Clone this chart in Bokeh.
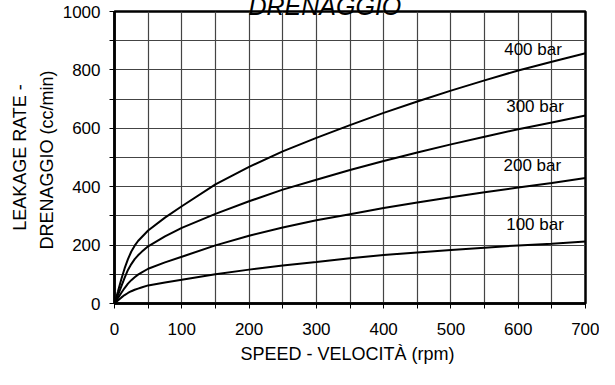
from bokeh.plotting import figure
from bokeh.models import FixedTicker, Label, Range1d
from bokeh.embed import file_html
from bokeh.resources import INLINE

# ---- data ----
speed = [0, 5, 10, 15, 20, 25, 30, 35, 40, 50, 75, 100, 150, 200, 250, 300,
         350, 400, 450, 500, 550, 600, 650, 700]
bar100 = [0, 10, 20, 29, 36, 42, 47, 51, 55, 62, 72, 81, 100, 116, 130, 142,
          155, 166, 175, 183, 191, 199, 205, 212]
bar200 = [0, 18, 36, 53, 68, 80, 90, 99, 106, 119, 141, 160, 199, 232, 260, 285,
          306, 327, 346, 364, 381, 397, 413, 430]
bar300 = [0, 28, 58, 88, 115, 135, 152, 165, 176, 196, 230, 259, 307, 350, 390, 424,
          457, 488, 517, 545, 571, 597, 620, 644]
bar400 = [0, 40, 82, 120, 152, 178, 198, 214, 226, 250, 294, 333, 408, 468, 521, 567,
          611, 653, 692, 729, 764, 798, 828, 857]
series = [bar100, bar200, bar300, bar400]
series_labels = ["100 bar", "200 bar", "300 bar", "400 bar"]
label_x = [625, 621, 625, 622]
label_y = [272, 473, 674, 871]

x_ticks = list(range(0, 701, 50))
y_ticks = list(range(0, 1001, 100))
x_tick_labels = {t: (str(t) if t % 100 == 0 else "") for t in x_ticks}
y_tick_labels = {t: (str(t) if t % 200 == 0 else "") for t in y_ticks}

title_text = "DRENAGGIO"
x_title = "SPEED - VELOCITÀ  (rpm)"
y_title = "LEAKAGE RATE -\nDRENAGGIO  (cc/min)"

FONT = "Liberation Sans"

p = figure(width=599, height=369, output_backend="svg", toolbar_location=None,
           x_range=Range1d(0, 700), y_range=Range1d(0, 1000),
           min_border_left=114, min_border_right=14,
           min_border_top=11, min_border_bottom=66)

p.background_fill_color = "white"
p.border_fill_color = "white"
p.outline_line_color = "black"
p.outline_line_width = 2.5

# title, partly cut off at the top edge as in the reference
p.title.text = title_text
p.title.text_font = FONT
p.title.text_font_size = "25px"
p.title.text_font_style = "italic"
p.title.text_color = "black"
p.title.align = "left"
p.title.offset = 134
p.title.vertical_align = "top"
p.title.standoff = -20

for ax, ticks, labels in ((p.xaxis[0], x_ticks, x_tick_labels), (p.yaxis[0], y_ticks, y_tick_labels)):
    ax.ticker = FixedTicker(ticks=ticks)
    ax.major_label_overrides = labels
    ax.axis_line_color = "black"
    ax.axis_line_width = 2.5
    ax.major_tick_line_color = "black"
    ax.major_tick_line_width = 1
    ax.major_tick_out = 5
    ax.major_tick_in = 0
    ax.minor_tick_line_color = None
    ax.major_label_text_font = FONT
    ax.major_label_text_font_size = "17px"
    ax.major_label_text_color = "black"
    ax.axis_label_text_font = FONT
    ax.axis_label_text_font_size = "18px"
    ax.axis_label_text_font_style = "normal"
    ax.axis_label_text_color = "black"

p.xaxis[0].major_label_standoff = 14
p.yaxis[0].major_label_standoff = 9
p.xaxis[0].axis_label = x_title
p.xaxis[0].axis_label_standoff = 6
p.yaxis[0].axis_label = y_title
p.yaxis[0].axis_label_standoff = 3
p.yaxis[0].axis_label_text_line_height = 1.35

p.xgrid[0].ticker = FixedTicker(ticks=x_ticks)
p.ygrid[0].ticker = FixedTicker(ticks=y_ticks)
for g in (p.xgrid[0], p.ygrid[0]):
    g.grid_line_color = "#444444"
    g.grid_line_width = 1.2
    g.grid_line_alpha = 1.0

for vals in series:
    p.line(speed, vals, line_color="black", line_width=2)

for txt, lx, ly in zip(series_labels, label_x, label_y):
    p.add_layout(Label(x=lx, y=ly, text=txt, text_align="center", text_baseline="middle",
                       text_font=FONT, text_font_size="17px", text_color="black"))

open("out.html", "w").write(file_html(p, INLINE))
